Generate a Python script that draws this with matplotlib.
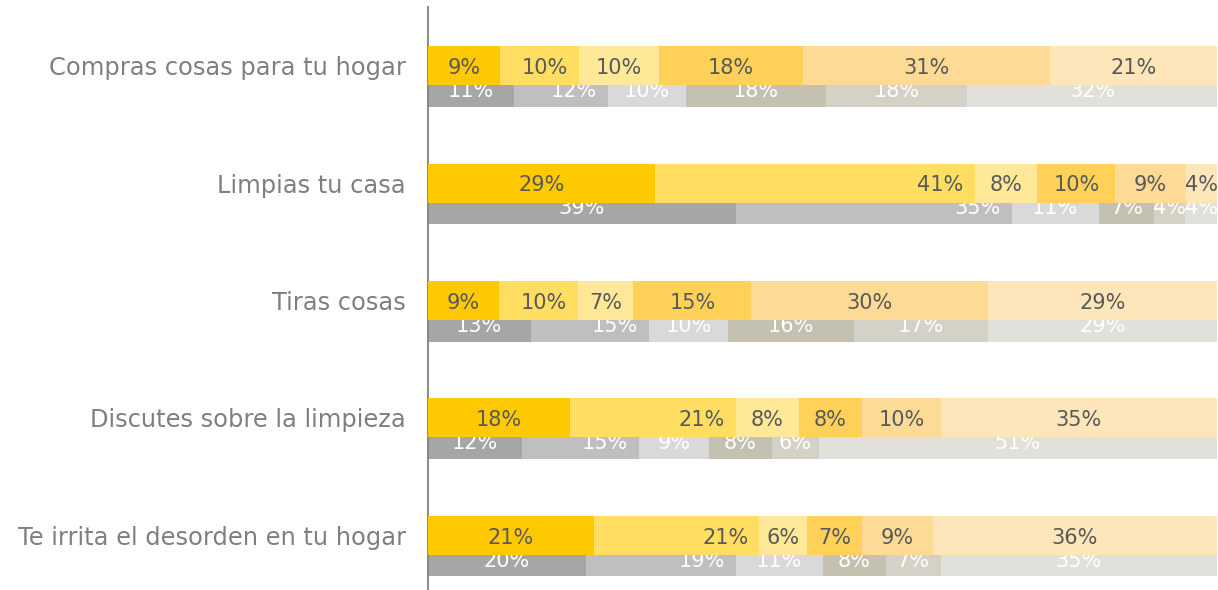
import matplotlib.pyplot as plt
import numpy as np

categorias = ["Compras cosas para tu hogar", "Limpias tu casa", "Tiras cosas",
              "Discutes sobre la limpieza", "Te irrita el desorden en tu hogar"]

# serie amarilla (arriba) y serie gris (abajo), en %
amarillo = [[9, 10, 10, 18, 31, 21],
            [29, 41, 8, 10, 9, 4],
            [9, 10, 7, 15, 30, 29],
            [18, 21, 8, 8, 10, 35],
            [21, 21, 6, 7, 9, 36]]
gris = [[11, 12, 10, 18, 18, 32],
        [39, 35, 11, 7, 4, 4],
        [13, 15, 10, 16, 17, 29],
        [12, 15, 9, 8, 6, 51],
        [20, 19, 11, 8, 7, 35]]

col_amarillo = ['#FFC900', '#FFDE62', '#FFE999', '#FFD158', '#FDDA95', '#FDE6B9']
col_gris = ['#A6A6A6', '#BFBFBF', '#D9D9D9', '#C4C1B1', '#D4D2C7', '#E2E0DA']


def apilar(ax, datos, colores, offset, alto, color_txt, z):
    for i, fila in enumerate(datos):
        fila = np.array(fila, dtype=float)
        frac = fila / fila.sum()
        izq = 0
        for j in range(len(fila)):
            ax.barh(i + offset, frac[j], left=izq, height=alto, color=colores[j],
                    linewidth=0, zorder=z)
            txt = "{:.0f}%".format(fila[j])
            if j == 1:
                # etiqueta en el extremo interior del segmento
                ax.annotate(txt, (izq + frac[j], i + offset), xytext=(-8, -1.5),
                            textcoords='offset points', ha='right', va='center',
                            fontsize=15, color=color_txt, zorder=z + 1)
            else:
                ax.annotate(txt, (izq + frac[j] / 2, i + offset), xytext=(0, -1.5),
                            textcoords='offset points', ha='center', va='center',
                            fontsize=15, color=color_txt, zorder=z + 1)
            izq += frac[j]


fig = plt.figure(figsize=(12.18, 5.9), dpi=100)
ax = fig.add_axes([428 / 1218, 0, 789 / 1218, 583 / 590])

apilar(ax, gris, col_gris, 0.196, 0.306, 'white', 1)
apilar(ax, amarillo, col_amarillo, 0, 0.332, '#595959', 3)

ax.set_xlim(0, 1)
ax.set_ylim(4.464, -0.498)
ax.set_yticks(range(len(categorias)))
ax.set_yticklabels(categorias, fontsize=17.4, color='#7F7F7F')
ax.tick_params(axis='y', length=0, pad=16)
ax.set_xticks([])
for s in ['top', 'right', 'bottom']:
    ax.spines[s].set_visible(False)
ax.spines['left'].set_color('#808080')
ax.spines['left'].set_linewidth(1.3)

fig.savefig('out.png', dpi=100)
